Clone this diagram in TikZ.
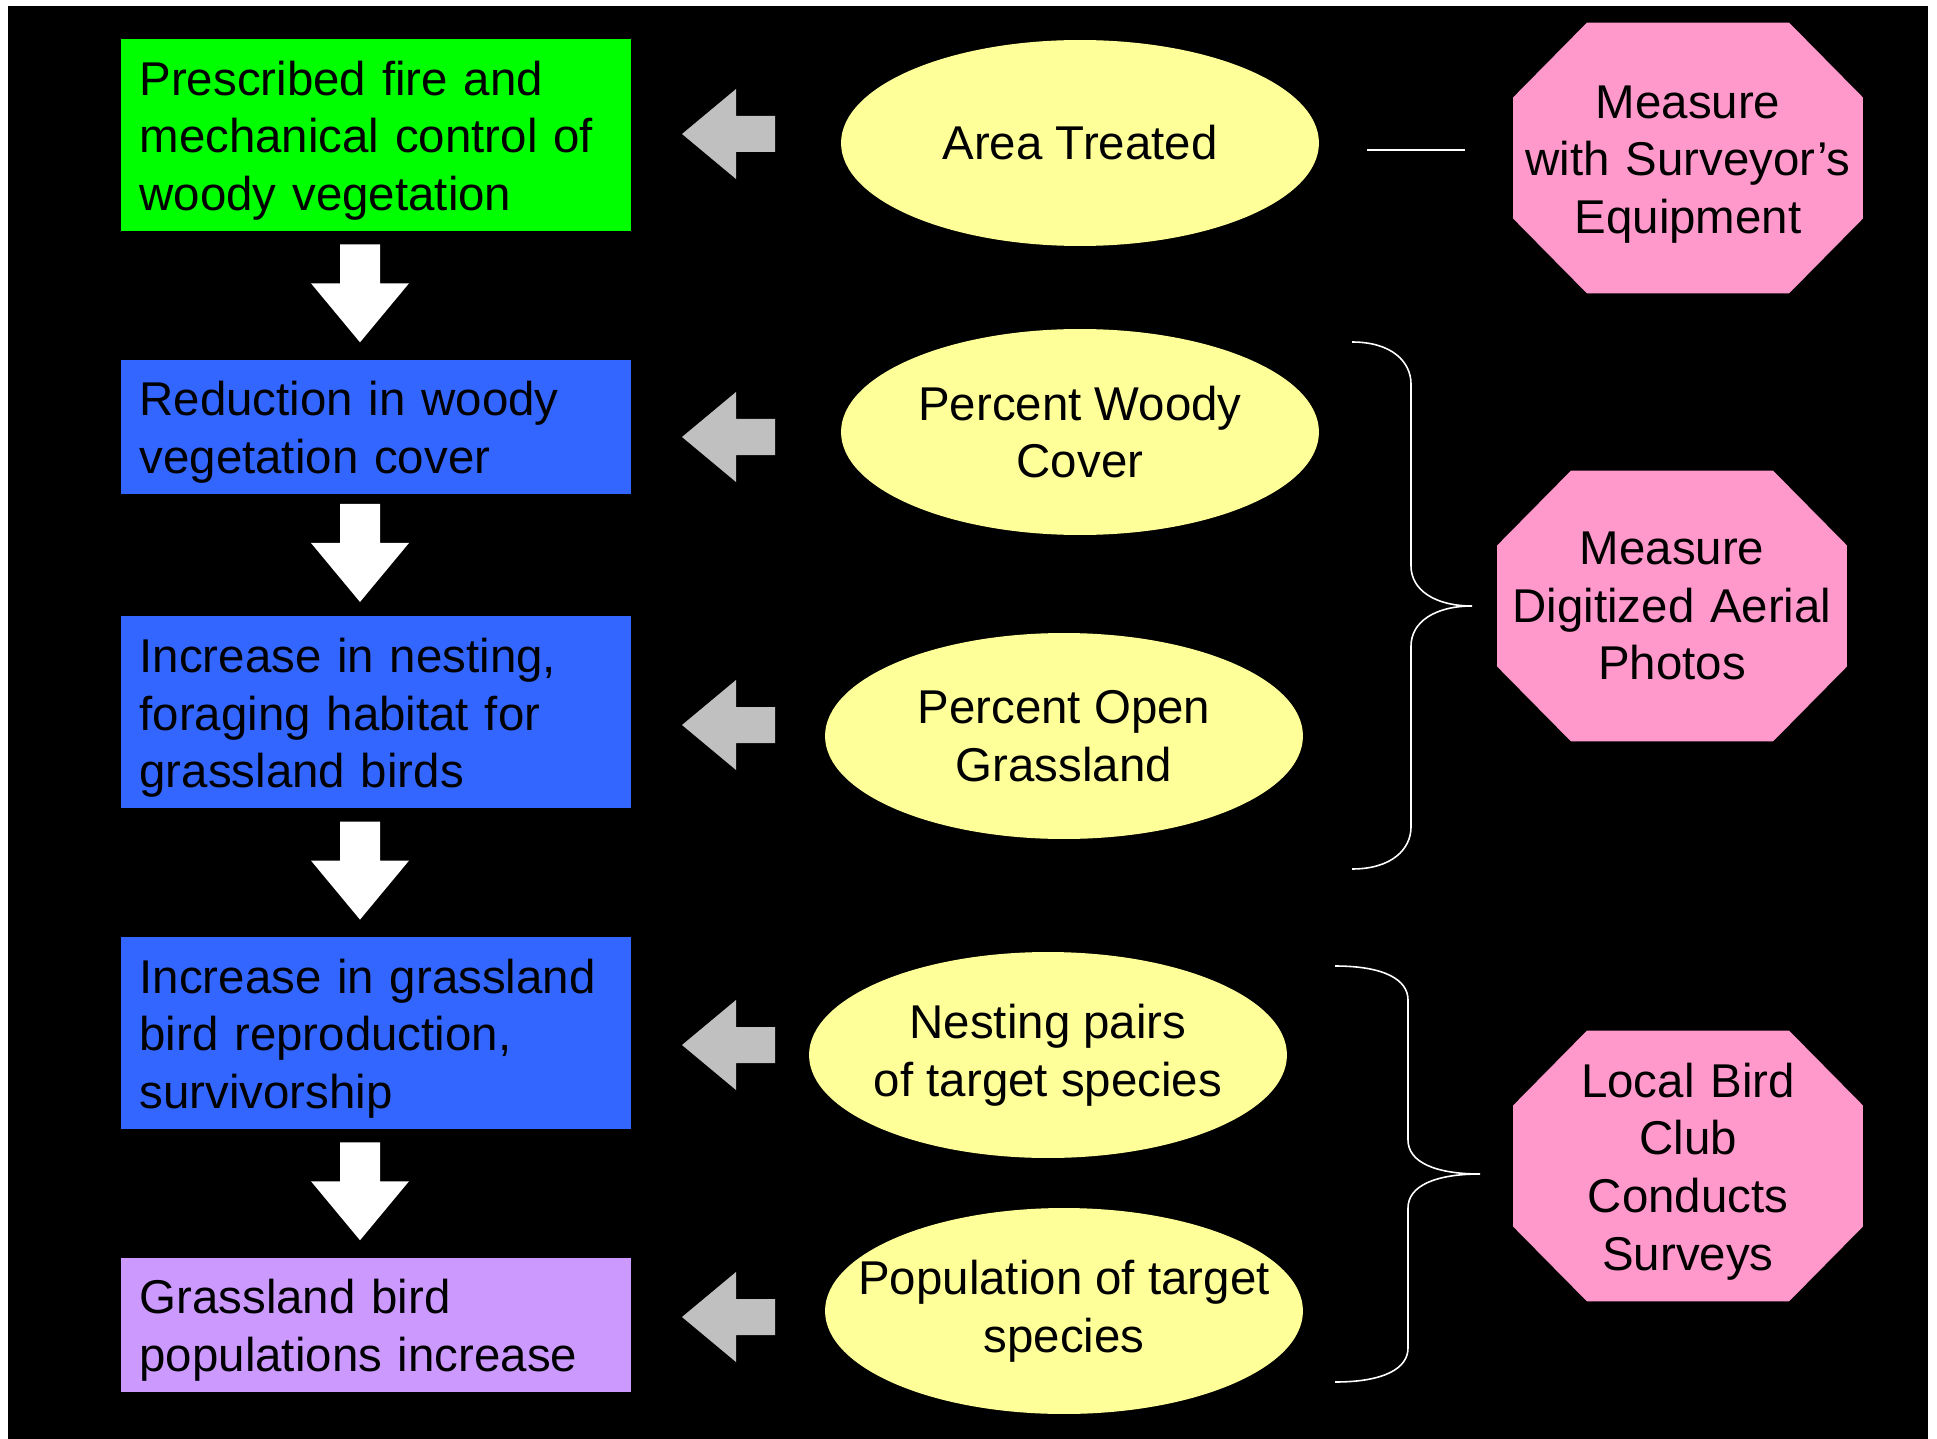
\documentclass[tikz,border=0pt]{standalone}
\usepackage{fontspec}
\setmainfont{Liberation Sans}
\usepackage{xcolor}
\usetikzlibrary{shapes.geometric, positioning, calc}

\definecolor{treatgreen}{HTML}{00FF00}
\definecolor{effectblue}{HTML}{3366FF}
\definecolor{goalviolet}{HTML}{CC99FF}
\definecolor{indicyellow}{HTML}{FFFF99}
\definecolor{methodpink}{HTML}{FF99CC}
\definecolor{pointgray}{HTML}{C0C0C0}

\begin{document}
\begin{tikzpicture}[
    x=0.02cm, y=-0.02cm, % one unit is one pixel of the slide, y runs down
    every node/.style={font={\fontsize{27}{32.8}\selectfont}},
    lowered/.style={execute at begin node={\rule{0pt}{25.8pt}}}, % pushes the text block a little down
    effect/.style={rectangle, fill=effectblue, minimum width=10.2cm, text width=9.46cm,
      inner xsep=0.37cm, inner ysep=0pt, align=left, lowered},
    tall/.style={minimum height=3.84cm},
    short/.style={minimum height=2.68cm},
    indicator/.style={ellipse, fill=indicyellow, minimum width=9.56cm, minimum height=4.12cm,
      inner xsep=-2cm, inner ysep=0pt, align=center},
    method/.style={rectangle, minimum width=7cm, minimum height=5.42cm, text width=6.6cm,
      inner xsep=0.2cm, inner ysep=0pt, align=center,
      path picture={
        \coordinate (nw) at (path picture bounding box.north west);
        \coordinate (se) at (path picture bounding box.south east);
        \fill[methodpink] ($(nw)+(1.48cm,0)$) -- ($(nw -| se)+(-1.48cm,0)$)
          -- ($(nw -| se)+(0,-1.5cm)$) -- ($(se)+(0,1.5cm)$)
          -- ($(se)+(-1.48cm,0)$) -- ($(se -| nw)+(1.48cm,0)$)
          -- ($(se -| nw)+(0,1.5cm)$) -- ($(nw)+(0,-1.5cm)$) -- cycle;
      }},
    blockdown/.style={fill=white},
    blockleft/.style={fill=pointgray},
    bracket/.style={draw=white, line width=0.9pt}
  ]

  % slide background
  \fill[white] (0,0) rectangle (1937,1439);
  \fill[black] (8,6) rectangle (1928,1439);
  \useasboundingbox (0,0) rectangle (1937,1439);

  % chain of expected results
  \node[effect, tall, fill=treatgreen] (b1) at (376,135) {Prescribed fire and\\ mechanical control of\\ woody vegetation};
  \node[effect, short, below=2.56cm of b1] (b2) {Reduction in woody\\ vegetation cover};
  \node[effect, tall, below=2.44cm of b2] (b3) {Increase in nesting,\\ foraging habitat for\\ grassland birds};
  \node[effect, tall, below=2.56cm of b3] (b4) {Increase in grassland\\ bird reproduction,\\ survivorship};
  \node[effect, short, fill=goalviolet, below=2.56cm of b4] (b5) {Grassland bird\\ populations increase};

  % indicators
  \node[indicator] (e1) at (1080,143) {Area Treated};
  \node[indicator] (e2) at (1080,432) {Percent Woody\\ Cover};
  \node[indicator] (e3) at (1064,736) {Percent Open\\ Grassland};
  \node[indicator] (e4) at (1048,1055) {Nesting pairs\\ of target species};
  \node[indicator] (e5) at (1064,1311) {Population of target\\ species};

  % how they are measured
  \node[method, lowered] (m1) at (1688,158) {Measure\\ with Surveyor’s\\ Equipment};
  \node[method] (m2) at (1672,606) {Measure\\ Digitized Aerial\\ Photos};
  \node[method, lowered] (m3) at (1688,1166) {Local Bird\\ Club\\ Conducts\\ Surveys};

  % white block arrows down the chain
  \foreach \up/\dn in {b1/b2, b2/b3, b3/b4, b4/b5}
    \fill[blockdown, shift={($(\up.south)!0.5!(\dn.north)+(-16,-2)$)}]
      (-20,-49) -- (20,-49) -- (20,-10) -- (49,-10) -- (0,49) -- (-49,-10) -- (-20,-10) -- cycle;

  % gray arrows from indicators back to results
  \foreach \y in {134, 437, 725, 1045, 1317}
    \fill[blockleft, shift={(728,\y)}]
      (-46,0) -- (8,-45) -- (8,-18) -- (47,-18) -- (47,18) -- (8,18) -- (8,45) -- cycle;

  % line and braces to the methods
  \coordinate (t1) at (1367,150);
  \coordinate (t2) at (1465,150);
  \draw[bracket] (t1) -- (t2);

  \coordinate (u1) at (1352,342);
  \coordinate (u2) at (1352,869);
  \draw[bracket] (u1) .. controls (1392,342) and (1411,362) .. (1411,384) -- (1411,566)
    .. controls (1411,590) and (1435,606) .. (1472,606)
    .. controls (1435,606) and (1411,622) .. (1411,646) -- (1411,827)
    .. controls (1411,849) and (1392,869) .. (u2);

  \coordinate (v1) at (1335,966);
  \coordinate (v2) at (1335,1382);
  \draw[bracket] (v1) .. controls (1385,966) and (1408,980) .. (1408,1000) -- (1408,1140)
    .. controls (1408,1162) and (1435,1174) .. (1480,1174)
    .. controls (1435,1174) and (1408,1186) .. (1408,1208) -- (1408,1348)
    .. controls (1408,1368) and (1385,1382) .. (v2);

\end{tikzpicture}
\end{document}
